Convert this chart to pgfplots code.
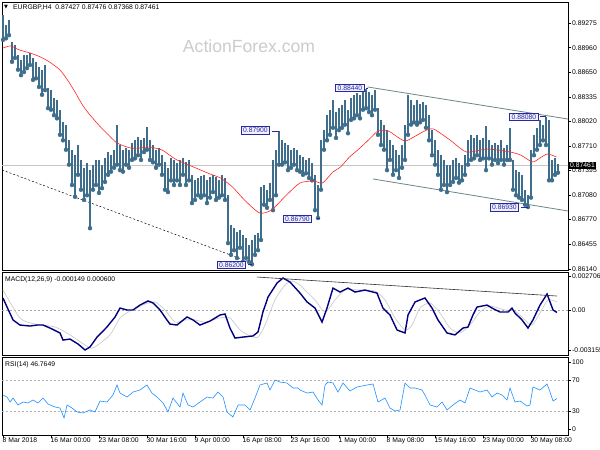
\documentclass[border=0pt]{standalone}
\usepackage{pgfplots}
\pgfplotsset{compat=1.18}
\usepackage{pgfplotstable}
\usepackage{fontspec}
\setmainfont{Liberation Sans}
\newfontfamily\dejavu{DejaVu Sans}
\definecolor{barcol}{RGB}{62,110,140}
\definecolor{macdnavy}{RGB}{0,0,128}
\definecolor{rsiblue}{RGB}{30,144,255}
\definecolor{lblnavy}{RGB}{40,40,160}
\definecolor{chan}{RGB}{110,135,135}

\pgfplotstableread{
i hi lo
0 0.8938 0.8906
2 0.8925 0.8908
4 0.8931 0.8912
6 0.8903 0.8878
8 0.8899 0.8883
10 0.8887 0.8868
12 0.8880 0.8861
14 0.8887 0.8865
16 0.8887 0.8870
18 0.8889 0.8874
20 0.8883 0.8855
22 0.8878 0.8857
24 0.8871 0.8846
26 0.8868 0.8836
28 0.8874 0.8842
30 0.8845 0.8819
32 0.8842 0.8817
34 0.8832 0.8810
36 0.8829 0.8806
38 0.8817 0.8785
40 0.8801 0.8778
42 0.8798 0.8766
44 0.8778 0.8747
46 0.8766 0.8721
48 0.8759 0.8706
50 0.8772 0.8734
52 0.8753 0.8715
54 0.8743 0.8702
56 0.8749 0.8708
58 0.8740 0.8666
60 0.8747 0.8715
62 0.8753 0.8721
64 0.8753 0.8711
66 0.8747 0.8717
68 0.8755 0.8725
70 0.8763 0.8734
72 0.8759 0.8738
74 0.8766 0.8743
76 0.8798 0.8747
78 0.8772 0.8740
80 0.8766 0.8738
82 0.8768 0.8747
84 0.8766 0.8743
86 0.8775 0.8753
88 0.8778 0.8755
90 0.8782 0.8759
92 0.8778 0.8753
94 0.8781 0.8763
96 0.8795 0.8766
98 0.8778 0.8753
100 0.8772 0.8750
102 0.8766 0.8743
104 0.8768 0.8747
106 0.8759 0.8734
108 0.8750 0.8715
110 0.8743 0.8712
112 0.8755 0.8727
114 0.8753 0.8721
116 0.8749 0.8727
118 0.8753 0.8721
120 0.8755 0.8734
122 0.8750 0.8721
124 0.8753 0.8727
126 0.8734 0.8698
128 0.8727 0.8702
130 0.8730 0.8708
132 0.8733 0.8705
134 0.8734 0.8708
136 0.8727 0.8698
138 0.8731 0.8705
140 0.8734 0.8712
142 0.8731 0.8702
144 0.8727 0.8705
146 0.8734 0.8708
148 0.8730 0.8702
150 0.8708 0.8647
152 0.8670 0.8632
154 0.8666 0.8638
156 0.8661 0.8628
158 0.8664 0.8641
160 0.8657 0.8623
162 0.8654 0.8628
164 0.8645 0.8623
166 0.8651 0.8620
168 0.8657 0.8632
170 0.8660 0.8638
172 0.8719 0.8651
174 0.8721 0.8696
176 0.8715 0.8692
178 0.8724 0.8702
180 0.8753 0.8689
182 0.8766 0.8708
184 0.8790 0.8747
186 0.8778 0.8747
188 0.8775 0.8750
190 0.8772 0.8740
192 0.8766 0.8743
194 0.8768 0.8747
196 0.8766 0.8740
198 0.8759 0.8738
200 0.8757 0.8734
202 0.8753 0.8736
204 0.8755 0.8730
206 0.8749 0.8727
208 0.8734 0.8689
210 0.8721 0.8679
212 0.8778 0.8715
214 0.8791 0.8766
216 0.8810 0.8778
218 0.8817 0.8785
220 0.8829 0.8794
222 0.8814 0.8781
224 0.8819 0.8791
226 0.8823 0.8794
228 0.8829 0.8798
230 0.8817 0.8787
232 0.8832 0.8804
234 0.8836 0.8806
236 0.8838 0.8810
238 0.8836 0.8806
240 0.8842 0.8817
242 0.8844 0.8819
244 0.8840 0.8814
246 0.8836 0.8810
248 0.8842 0.8817
250 0.8819 0.8785
252 0.8804 0.8772
254 0.8798 0.8766
256 0.8791 0.8740
258 0.8778 0.8753
260 0.8772 0.8734
262 0.8766 0.8740
264 0.8759 0.8730
266 0.8772 0.8743
268 0.8798 0.8753
270 0.8836 0.8785
272 0.8829 0.8798
274 0.8823 0.8801
276 0.8829 0.8798
278 0.8824 0.8801
280 0.8827 0.8804
282 0.8823 0.8794
284 0.8810 0.8778
286 0.8791 0.8759
288 0.8778 0.8747
290 0.8766 0.8734
292 0.8759 0.8715
294 0.8753 0.8721
296 0.8747 0.8712
298 0.8747 0.8721
300 0.8753 0.8725
302 0.8755 0.8730
304 0.8749 0.8724
306 0.8747 0.8727
308 0.8759 0.8734
310 0.8778 0.8747
312 0.8785 0.8753
314 0.8781 0.8755
316 0.8785 0.8759
318 0.8778 0.8753
320 0.8781 0.8755
322 0.8796 0.8740
324 0.8778 0.8755
326 0.8772 0.8747
328 0.8775 0.8753
330 0.8772 0.8749
332 0.8778 0.8753
334 0.8768 0.8747
336 0.8772 0.8753
338 0.8794 0.8753
340 0.8753 0.8715
342 0.8740 0.8708
344 0.8738 0.8705
346 0.8734 0.8702
348 0.8715 0.8696
350 0.8708 0.8693
352 0.8766 0.8705
354 0.8785 0.8759
356 0.8794 0.8766
358 0.8804 0.8772
360 0.8798 0.8778
362 0.8808 0.8772
364 0.8804 0.8727
366 0.8753 0.8727
368 0.8755 0.8734
370 0.87476 0.87368
}\bars

\pgfplotstableread{
i ma
0 0.88956
5 0.88982
11 0.88931
18 0.88893
25 0.88842
31 0.88778
38 0.88676
43 0.88549
48 0.88396
53 0.88230
58 0.88102
65 0.87950
69 0.87873
76 0.87746
85 0.87682
91 0.87682
98 0.87694
106 0.87656
111 0.87592
116 0.87529
127 0.87440
138 0.87351
145 0.87300
153 0.87185
161 0.87019
171 0.86854
179 0.86892
189 0.87083
198 0.87236
207 0.87262
213 0.87236
220 0.87377
225 0.87440
231 0.87567
238 0.87682
245 0.87809
250 0.87898
257 0.87898
261 0.87848
268 0.87771
275 0.87835
281 0.87898
287 0.87924
298 0.87784
309 0.87631
323 0.87669
338 0.87631
345 0.87593
353 0.87504
358 0.87555
363 0.87606
369 0.87567
}\ma

\pgfplotstableread{
i v
0 0.00087
2.7 0.00023
6.7 -0.00068
11.3 -0.00104
18 -0.00111
22.7 -0.00104
26.7 -0.00104
31.3 -0.00125
38 -0.00160
40 -0.00210
44.7 -0.00203
50 -0.00238
54.7 -0.00280
58 -0.00259
62.7 -0.00189
69.3 -0.00118
74.7 -0.00047
78 0.00016
82.7 0.00002
86.7 0.00002
91.3 0.00037
96.7 0.00066
100 0.00052
104.7 0.00002
109.3 -0.00068
111.3 -0.00097
116 -0.00104
122.7 -0.00047
126.7 -0.00068
131.3 -0.00104
138 -0.00076
144.7 -0.00033
148 -0.00026
151.3 -0.00125
154.7 -0.00196
160 -0.00189
166.7 -0.00181
170 -0.00153
173.3 -0.00012
176.7 0.00094
182.7 0.00193
186.7 0.00228
191.3 0.00200
198 0.00122
202.7 0.00059
208 0.00016
212.7 -0.00083
216 0.00016
220 0.00157
224.7 0.00129
230 0.00157
234.7 0.00129
241.3 0.00143
249.3 0.00122
253.3 0.00016
258 -0.00033
262.7 -0.00139
268 -0.00160
270 -0.00033
274.7 0.00059
281.3 0.00087
286 0.00016
290 -0.00068
296 -0.00160
301.3 -0.00174
306.7 -0.00125
310 -0.00118
313.3 -0.00033
316 0.00023
322.7 0.00037
326 0.00016
331.3 -0.00012
336.7 -0.00012
339.3 0.00016
341.3 -0.00019
346 -0.00068
350 -0.00125
353.3 -0.00068
358 0.00037
362.7 0.00115
366.7 0.00002
369.3 -0.00015
}\macd

\pgfplotstableread{
i v
0 0.00143
11.3 -0.00054
21.3 -0.00097
34.7 -0.00118
44.7 -0.00174
54.7 -0.00245
60 -0.00266
71.3 -0.00174
78 -0.00054
84.7 -0.00005
94.7 0.00044
101.3 0.00059
108 0.00002
114.7 -0.00083
121.3 -0.00068
128 -0.00068
134.7 -0.00083
144.7 -0.00054
151.3 -0.00054
158 -0.00139
164.7 -0.00181
170 -0.00189
174.7 -0.00104
181.3 0.00073
188 0.00179
192.7 0.00207
198 0.00179
201.3 0.00143
208 0.00073
214.7 -0.00012
221.3 0.00073
228 0.00143
238 0.00143
248 0.00136
254.7 0.00073
261.3 -0.00054
268 -0.00139
272.7 -0.00104
278 0.00016
284.7 0.00052
291.3 -0.00019
298 -0.00125
304.7 -0.00160
311.3 -0.00104
318 -0.00012
324.7 0.00030
334.7 0.00002
341.3 -0.00005
348 -0.00068
352.7 -0.00104
358 -0.00019
363.3 0.00073
369.3 0.00060
}\sig

\pgfplotstableread{
i r
0 51.3
2.7 48.7
4.7 42.3
6.7 47.4
10 38.5
13.3 42.3
16.7 41.0
20 44.9
23.3 41.0
26.7 47.4
30 39.7
34.7 35.9
38 34.6
40.7 21.8
42.7 38.5
46 34.6
49.3 29.5
53.3 28.2
58 32.1
61.3 29.5
64.7 43.6
69.3 42.3
73.3 51.3
76 64.1
78 53.8
82.7 48.7
86.7 55.1
91.3 57.7
96 64.1
99.3 53.8
102.7 48.7
106.7 41.0
110 29.5
113.3 47.4
118 35.9
120 53.8
123.3 38.5
126.7 35.9
131.3 42.3
136 48.7
140 47.4
143.3 55.1
146.7 48.7
149.3 29.5
153.3 23.1
156.7 38.5
161.3 38.5
164.7 32.1
168 47.4
171.3 64.1
176 66.7
178 57.7
181.3 70.5
184.7 67.9
189.3 66.7
193.3 60.3
196.7 60.3
198 57.7
202.7 53.8
206.7 55.1
210 44.9
212.7 38.5
214.7 64.1
216.7 67.9
220 66.7
223.3 55.1
226.7 66.7
231.3 56.4
236 61.5
242.7 64.1
246.7 65.4
250 42.3
254.7 47.4
258 34.6
261.3 30.8
264.7 32.1
268 66.7
271.3 60.3
274.7 60.3
279.3 57.7
281.3 51.3
284.7 38.5
289.3 35.9
292.7 42.3
296 32.1
300 38.5
304.7 44.9
308 41.0
311.3 60.3
314.7 57.7
318 55.1
322.7 57.7
326 48.7
329.3 53.8
332.7 51.3
336 44.9
338 60.3
341.3 42.3
344.7 43.6
349.3 37.2
351.3 38.5
353.3 61.5
358 57.7
362.7 65.4
364.7 55.1
366.7 43.6
369.3 46.8
}\rsi

\pgfplotsset{
  mt/.style={
    scale only axis, width=566pt,
    xmin=-0.667, xmax=376.667,
    axis line style={black, line width=0.8pt},
    ytick pos=right, yticklabel pos=right,
    tick align=outside, major tick length=3pt,
    tick style={black, line width=0.5pt},
    ticklabel style={font=\fontsize{6.8}{8}\selectfont, text=black},
    yticklabel style={anchor=west, inner sep=1pt},
    xtick=\empty,
    scaled y ticks=false,
    clip mode=individual,
  },
}
\tikzset{
  lbl/.style={draw=lblnavy, fill=blue!6, text=lblnavy, line width=0.6pt,
    font=\fontsize{6.8}{8}\selectfont, inner xsep=2pt, inner ysep=1.2pt,
    text height=5pt, text depth=0pt},
}

\begin{document}
\begin{tikzpicture}
\clip (0,0) rectangle (600pt,-450pt);
\fill[white] (0,0) rectangle (600pt,-450pt);

% ---------- main price panel ----------
\begin{axis}[mt, at={(2pt,-2pt)}, anchor=north west, height=268pt,
  ymin=0.8612712, ymax=0.8954251,
  ytick={0.86140,0.86455,0.86770,0.87080,0.87395,0.87710,0.88020,0.88335,0.88650,0.88960,0.89275},
  yticklabels={0.86140,0.86455,0.86770,0.87080,0.87395,0.87710,0.88020,0.88335,0.88650,0.88960,0.89275}]
\node[text=gray!40, font=\fontsize{17.6}{20}\selectfont] at (axis cs:164,0.88982) {ActionForex.com};
\addplot[gray!45, line width=0.5pt] coordinates {(-1,0.87461) (378,0.87461)};
\addplot[black, line width=0.5pt, dash pattern=on 2pt off 2pt] coordinates {(-0.667,0.87402) (166,0.86217)};
\addplot[chan, line width=0.8pt] coordinates {(243,0.88460) (376.667,0.88051)};
\addplot[chan, line width=0.8pt] coordinates {(246.7,0.87287) (376.667,0.86879)};
\addplot[barcol, only marks, mark=none,
  error bars/.cd, y dir=plus, y explicit, error mark=none,
  error bar style={draw=barcol, line width=1.8pt, solid}]
  table[x=i, y=lo, y error expr=\thisrow{hi}-\thisrow{lo}] {\bars};
\addplot[red!85, line width=0.6pt, smooth, tension=0.4] table[x=i, y=ma] {\ma};
% label connectors
\addplot[lblnavy, line width=0.6pt] coordinates {(179.3,0.87900) (184,0.87900)};
\addplot[lblnavy, line width=0.6pt] coordinates {(163.3,0.86200) (166,0.86200)};
\addplot[lblnavy, line width=0.6pt] coordinates {(209.6,0.86783) (211,0.86783) (211,0.86790)};
\addplot[lblnavy, line width=0.6pt] coordinates {(242,0.88440) (243,0.88440)};
\addplot[lblnavy, line width=0.6pt] coordinates {(358,0.88080) (362,0.88080)};
\addplot[lblnavy, line width=0.6pt] coordinates {(345.3,0.86930) (350,0.86930)};
\node[lbl] at (axis cs:168.3,0.87905) {0.87900};
\node[lbl] at (axis cs:152.3,0.86191) {0.86200};
\node[lbl] at (axis cs:196.3,0.86783) {0.86790};
\node[lbl] at (axis cs:231.3,0.88447) {0.88440};
\node[lbl] at (axis cs:347.3,0.88077) {0.88080};
\node[lbl] at (axis cs:334.3,0.86924) {0.86930};
\coordinate (cp) at (axis cs:376.667,0.87461);
\end{axis}
\node[fill=black, text=white, anchor=west, inner xsep=1.5pt, inner ysep=1pt,
  font=\fontsize{6.8}{8}\selectfont, text height=5pt, text depth=0pt] at ([xshift=0.5pt]cp) {0.87461};
\node[anchor=west, inner sep=0pt, font=\dejavu\fontsize{5}{6}\selectfont] at (4pt,-7.5pt) {▼};
\node[anchor=west, inner sep=0pt, font=\fontsize{6.8}{8}\selectfont] at (13pt,-7.5pt)
  {EURGBP,H4\ \ 0.87427 0.87476 0.87368 0.87461};

% ---------- MACD panel ----------
\begin{axis}[mt, at={(2pt,-272pt)}, anchor=north west, height=83pt,
  ymin=-0.003156, ymax=0.002706,
  ytick={-0.002803,0,0.002422}, yticklabels={-0.003155,0.00,0.002706}]
\addplot[gray!70, line width=0.5pt, dash pattern=on 2pt off 2pt] coordinates {(-1,0) (378,0)};
\addplot[gray!40, line width=0.7pt, smooth, tension=0.4] table[x=i, y=v] {\sig};
\addplot[macdnavy, line width=1.4pt] table[x=i, y=v] {\macd};
\addplot[black!80, line width=0.6pt] coordinates {(169.3,0.00235) (369.3,0.00101)};
\node[anchor=north west, inner sep=0pt, font=\fontsize{6.8}{8}\selectfont] at (rel axis cs:0,1) [xshift=3pt, yshift=-4.5pt] {MACD(12,26,9) -0.000149 0.000600};
\end{axis}

% ---------- RSI panel ----------
\begin{axis}[mt, at={(2pt,-357pt)}, anchor=north west, height=78pt,
  ymin=0, ymax=100,
  ytick={7.7,30,70,93.6}, yticklabels={0,30,70,100},
  xtick={0,32,64,96,128,160,192,224,256,288,320,352},
  xticklabels={8 Mar 2018,16 Mar 00:00,23 Mar 08:00,30 Mar 16:00,9 Apr 00:00,16 Apr 08:00,23 Apr 16:00,1 May 00:00,8 May 08:00,15 May 16:00,23 May 00:00,30 May 08:00},
  xtick pos=bottom,
  xticklabel style={anchor=north west, inner sep=0.5pt, xshift=-1pt, yshift=1pt}]
\addplot[gray!60, line width=0.5pt, dash pattern=on 2pt off 2pt] coordinates {(-1,30) (378,30)};
\addplot[gray!60, line width=0.5pt, dash pattern=on 2pt off 2pt] coordinates {(-1,70) (378,70)};
\addplot[rsiblue, line width=0.6pt] table[x=i, y=r] {\rsi};
\node[anchor=north west, inner sep=0pt, font=\fontsize{6.8}{8}\selectfont] at (rel axis cs:0,1) [xshift=3pt, yshift=-4pt] {RSI(14) 46.7649};
\end{axis}
\end{tikzpicture}
\end{document}
